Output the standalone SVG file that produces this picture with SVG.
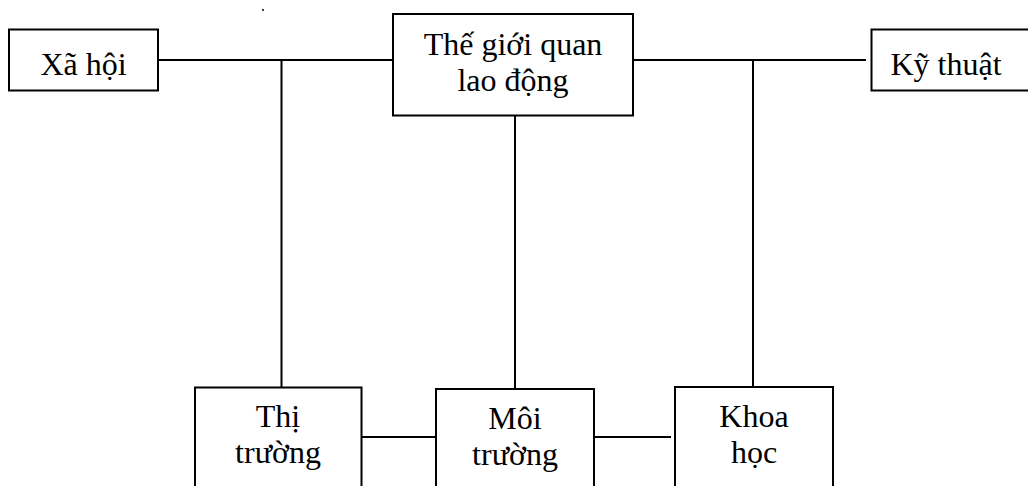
<svg xmlns="http://www.w3.org/2000/svg" width="1028" height="486" viewBox="0 0 1028 486">
<style>
.box{fill:#fff;stroke:#000;stroke-width:2}
.ln{stroke:#000;stroke-width:2;fill:none}
text{font-family:"Liberation Serif","Times New Roman",serif;font-size:32px;fill:#000;text-anchor:middle}
</style>
<rect width="1028" height="486" fill="#fff"/>
<circle cx="263" cy="10" r="1" fill="#000"/>
<g id="connectors">
<line class="ln" x1="158" y1="60" x2="393" y2="60"/>
<line class="ln" x1="633" y1="60" x2="866" y2="60"/>
<line class="ln" x1="281.5" y1="60" x2="281.5" y2="388"/>
<line class="ln" x1="515" y1="116" x2="515" y2="389"/>
<line class="ln" x1="753" y1="60" x2="753" y2="387"/>
<line class="ln" x1="362" y1="437" x2="436" y2="437"/>
<line class="ln" x1="594" y1="437" x2="671" y2="437"/>
</g>
<g id="xa-hoi">
<rect class="box" x="9" y="29.5" width="149" height="61"/>
<text x="83.5" y="75">Xã hội</text>
</g>
<g id="the-gioi-quan">
<rect class="box" x="393" y="14" width="240" height="101.5"/>
<text x="513" y="55">Thế giới quan</text>
<text x="513" y="91">lao động</text>
</g>
<g id="ky-thuat">
<rect class="box" x="871.5" y="29.5" width="170" height="61"/>
<text x="946" y="75">Kỹ thuật</text>
</g>
<g id="thi-truong">
<rect class="box" x="195" y="387.5" width="166.5" height="120"/>
<text x="278" y="427">Thị</text>
<text x="278" y="463">trường</text>
</g>
<g id="moi-truong">
<rect class="box" x="436" y="389" width="158" height="120"/>
<text x="515" y="429">Môi</text>
<text x="515" y="465">trường</text>
</g>
<g id="khoa-hoc">
<rect class="box" x="675" y="387" width="158" height="120"/>
<text x="754" y="427">Khoa</text>
<text x="754" y="463">học</text>
</g>
</svg>
